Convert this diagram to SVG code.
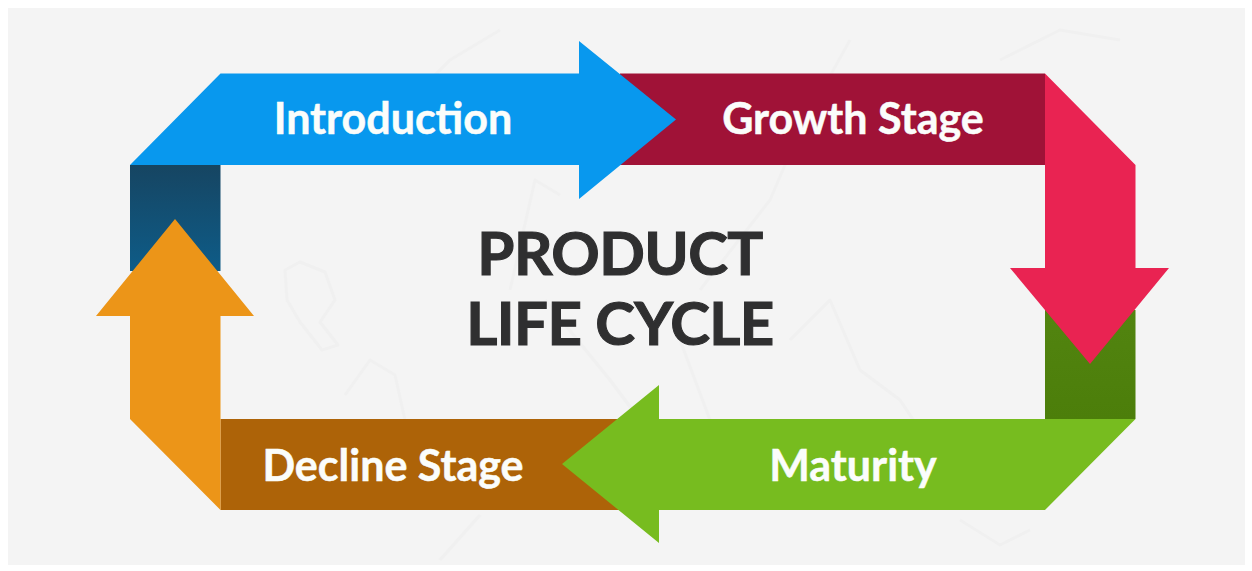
<svg xmlns="http://www.w3.org/2000/svg" width="1252" height="571" viewBox="0 0 1252 571">
<style>
.l{font-family:Lato,"Open Sans",sans-serif;font-weight:700;font-size:43px;fill:#fbfdfb;text-anchor:middle;stroke:#fbfdfb;stroke-width:.5px}
.t{font-family:Lato,"Open Sans",sans-serif;font-weight:700;font-size:60px;letter-spacing:-.6px;fill:#2f2f30;stroke:#2f2f30;stroke-width:1.1px;text-anchor:middle}
.m{fill:none;stroke:#f0f0f0;stroke-width:3;stroke-linejoin:round}
</style>
<defs>
<linearGradient id="db" x1="0" y1="0" x2="0" y2="1"><stop offset="0" stop-color="#164562"/><stop offset="1" stop-color="#0e5c88"/></linearGradient>
<linearGradient id="dg" x1="0" y1="0" x2="0" y2="1"><stop offset="0" stop-color="#528410"/><stop offset="1" stop-color="#4c7e0a"/></linearGradient>
</defs>
<rect width="1252" height="571" fill="#ffffff"/>
<rect x="8" y="8" width="1237" height="557" fill="#f4f4f4"/>
<g id="map">
<path class="m" d="M285,270 L300,262 L325,272 L335,300 L320,322 L338,345 L322,350 L300,322 L287,300Z"/>
<path class="m" d="M345,395 L370,360 L395,375 L405,420 L385,470"/>
<path class="m" d="M370,150 L410,100 L450,60 L500,30"/>
<path class="m" d="M510,290 L535,180 L560,195"/>
<path class="m" d="M545,300 L610,380 L640,420"/>
<path class="m" d="M700,290 L770,200 L800,130 L850,40"/>
<path class="m" d="M790,340 L830,300 L860,370 L900,400 L920,430"/>
<path class="m" d="M680,340 L710,420"/>
<path class="m" d="M1000,60 L1060,30 L1120,40"/>
<path class="m" d="M960,520 L1000,545 L1030,530"/>
<path class="m" d="M480,515 L440,560"/>
</g>
<g id="connectors"></g>
<g id="node-growth"><rect x="620" y="73.500" width="425" height="91.500" fill="#a01237"/></g>
<g id="node-decline"><rect x="220.500" y="419" width="400" height="91" fill="#ad6308"/></g>
<g id="node-maturity-stem"><rect x="1045" y="310" width="90.500" height="109" fill="url(#dg)"/></g>
<g id="node-intro-stem"><rect x="130" y="165" width="90.500" height="106" fill="url(#db)"/></g>
<g id="node-pink"><polygon points="1045,73.500 1135.500,165 1135.500,268 1169,268 1090,364 1010,268 1045,268" fill="#e92352"/></g>
<g id="node-orange"><polygon points="220.500,510 130,419 130,316 96,316 175,219 254,316 220.500,316" fill="#ec9518"/></g>
<g id="node-introduction"><polygon points="130,165 220.500,73.500 579,73.500 579,41 676,119.500 579,199 579,165" fill="#0898ee"/><text class="l" x="393" y="133.500">Introduction</text></g>
<g id="node-growth-label"><text class="l" x="853" y="133.500">Growth Stage</text></g>
<g id="node-maturity"><polygon points="1135.500,419 1045,510 659,510 659,543 562,464 659,385 659,419" fill="#77bc1f"/><text class="l" x="853" y="480.500">Maturity</text></g>
<g id="node-decline-label"><text class="l" x="393" y="480.500">Decline Stage</text></g>
<g id="title"><text class="t" x="620" y="275">PRODUCT</text><text class="t" x="620" y="345">LIFE CYCLE</text></g>
</svg>
